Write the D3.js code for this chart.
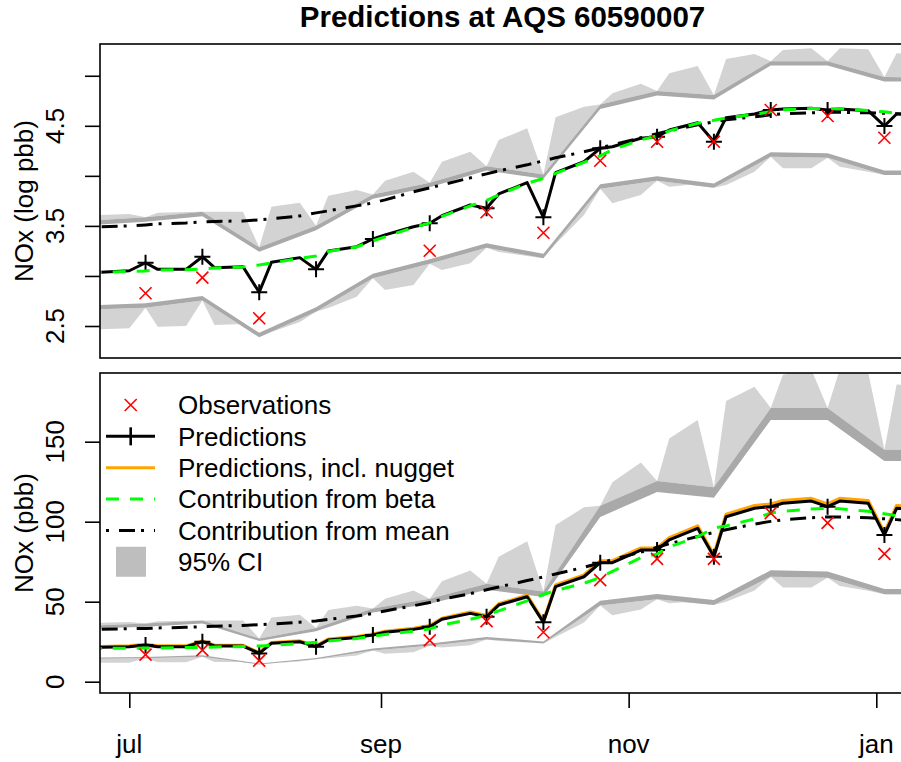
<!DOCTYPE html>
<html>
<head>
<meta charset="utf-8">
<script src="https://cdn.jsdelivr.net/npm/d3@7"></script>
<style>
  body { margin: 0; background: #fff; }
  svg { display: block; font-family: "Liberation Sans", Arial, Helvetica, sans-serif; }
</style>
</head>
<body>
<svg id="chart" width="901" height="762"></svg>
<script>
// ---- time points ------------------------------------------------------
// prediction grid (all model time points)
const gridDates = ["2006-06-21","2006-06-24","2006-07-01","2006-07-05","2006-07-08","2006-07-15",
  "2006-07-19","2006-07-22","2006-07-29","2006-08-02","2006-08-05","2006-08-12","2006-08-16",
  "2006-08-19","2006-08-26","2006-08-30","2006-09-02","2006-09-09","2006-09-13","2006-09-16",
  "2006-09-23","2006-09-27","2006-09-30","2006-10-07","2006-10-11","2006-10-14","2006-10-21",
  "2006-10-25","2006-10-28","2006-11-04","2006-11-08","2006-11-11","2006-11-18","2006-11-22",
  "2006-11-25","2006-12-02","2006-12-06","2006-12-09","2006-12-16","2006-12-20","2006-12-23",
  "2006-12-30","2007-01-03","2007-01-06","2007-01-13","2007-01-17"];
// biweekly sampling schedule of the site
const obsDates = ["2006-06-21","2006-07-05","2006-07-19","2006-08-02","2006-08-16","2006-08-30",
  "2006-09-13","2006-09-27","2006-10-11","2006-10-25","2006-11-08","2006-11-22","2006-12-06",
  "2006-12-20","2007-01-03","2007-01-17"];

// ---- log scale (upper panel) -------------------------------------------
const logObs = [null,2.827,2.983,2.577,null,null,3.252,3.636,3.432,4.151,4.341,4.341,4.658,4.598,4.381,null];
const logPred = [3.03,3.036,3.052,3.132,3.066,3.066,3.192,3.083,3.093,2.837,3.136,3.183,3.066,3.249,3.292,
  3.369,3.41,3.492,3.526,3.602,3.709,3.676,3.819,3.932,3.586,4.032,4.141,4.275,4.291,4.375,4.391,4.458,
  4.531,4.341,4.581,4.618,4.658,4.668,4.675,4.658,4.668,4.651,4.498,4.618,4.61,4.60];
const logBeta = [3.03,3.035,3.045,3.05,3.06,3.063,3.07,3.08,3.09,3.11,3.13,3.175,3.20,3.245,3.29,3.35,
  3.39,3.485,3.53,3.595,3.70,3.755,3.81,3.925,3.975,4.025,4.135,4.20,4.26,4.36,4.40,4.45,4.525,4.555,
  4.578,4.615,4.64,4.66,4.672,4.672,4.67,4.652,4.64,4.625,4.60,4.59];
const logMean = [3.48,3.49,3.50,3.51,3.52,3.53,3.54,3.545,3.55,3.56,3.57,3.60,3.63,3.65,3.70,3.73,3.76,
  3.84,3.88,3.91,3.98,4.02,4.05,4.11,4.15,4.18,4.24,4.28,4.31,4.38,4.42,4.45,4.51,4.54,4.56,4.59,4.61,
  4.62,4.63,4.635,4.635,4.63,4.625,4.62,4.61,4.60];
// 95% CI at every time point
const logCiAllUp = [3.551,3.609,3.619,3.586,3.632,3.639,3.641,3.642,3.642,3.286,3.692,3.732,3.501,3.802,
  3.859,3.814,3.95,4.042,3.931,4.14,4.241,4.097,4.358,4.475,4.014,4.585,4.691,4.713,4.825,4.92,4.847,
  5.024,5.097,4.807,5.167,5.217,5.146,5.257,5.274,5.146,5.274,5.264,4.987,5.224,5.22,4.982];
const logCiAllLo = [2.663,2.467,2.477,2.683,2.493,2.50,2.755,2.51,2.52,2.388,2.44,2.54,2.643,2.68,2.793,
  2.978,2.86,2.91,3.122,3.06,3.126,3.282,3.24,3.20,3.177,3.32,3.609,3.872,3.726,3.809,3.952,3.892,3.919,
  3.880,3.909,4.042,4.191,4.075,4.075,4.181,4.092,4.04,4.009,4.03,4.03,4.008];
// 95% CI on the sampling schedule (with / without nugget)
const logCiObsUpOuter = [3.551,3.586,3.641,3.286,3.501,3.814,3.931,4.097,4.014,4.713,4.847,4.807,5.146,5.146,4.987,4.982];
const logCiObsUpInner = [3.507,3.542,3.597,3.242,3.457,3.770,3.887,4.053,3.970,4.669,4.803,4.763,5.102,5.102,4.943,4.938];
const logCiObsLoInner = [2.707,2.727,2.799,2.432,2.687,3.022,3.166,3.326,3.221,3.916,3.996,3.924,4.235,4.225,4.053,4.052];
const logCiObsLoOuter = [2.663,2.683,2.755,2.388,2.643,2.978,3.122,3.282,3.177,3.872,3.952,3.880,4.191,4.181,4.009,4.008];

// ---- original scale (lower panel) --------------------------------------
const ppbObs = [null,16.9,19.7,13.2,null,null,25.8,37.9,30.9,63.5,76.8,76.8,105.4,99.3,79.9,null];
const ppbPred = [21.4,21.5,21.9,22.9,21.9,21.9,25.0,22.3,22.3,17.7,24.0,25.0,21.9,26.1,27.7,29.2,30.9,
  32.7,34.4,39.0,42.7,40.6,47.9,53.1,37.1,59.4,65.6,74.4,74.4,82.3,82.3,88.6,95.9,78.1,103.1,108.4,
  109.4,111.5,112.9,109.4,112.9,111.5,91.7,108.4,107.0,106.0];
const ppbPredNugget = [21.8,21.9,22.3,23.3,22.3,22.3,25.4,22.7,22.7,18.0,24.4,25.4,22.3,26.6,28.2,29.7,
  31.4,33.3,35.0,39.6,43.4,41.2,48.6,53.9,37.7,60.3,66.6,75.5,75.5,83.5,83.5,89.9,97.3,79.2,104.6,110.0,
  111.0,113.1,114.5,111.0,114.5,113.1,93.0,110.0,108.6,107.5];
const ppbBeta = [20.7,20.8,20.9,21.0,21.1,21.3,21.5,21.7,22.0,22.3,22.7,23.8,24.6,25.4,27.0,28.4,29.5,
  31.6,33.0,35.4,39.0,41.6,44.3,50.5,54.5,57.0,61.5,65.2,69.0,77.5,79.8,84.2,90.6,96.0,97.4,101.7,105.5,
  106.5,107.9,108.3,108.1,106.5,105.0,103.8,101.0,100.0];
const ppbMean = [32.6,32.8,33.1,33.3,33.6,34.0,34.4,34.6,35.2,35.6,36.0,37.2,38.0,38.9,41.0,42.7,44.2,
  47.5,49.5,51.5,55.0,57.5,59.2,63.2,65.5,67.3,71.5,74.2,76.3,81.0,84.0,86.2,90.8,93.3,95.0,98.5,100.2,
  101.2,102.5,103.0,103.0,102.4,101.8,101.3,100.0,99.5];
const ppbCiAllUp = [35.0,36.9,37.3,36.3,37.8,38.1,38.3,38.2,38.2,27.0,40.1,41.8,33.5,44.8,47.4,45.8,51.9,
  57.0,51.8,62.8,69.5,61.2,78.1,87.8,56.4,98.0,109.0,110.0,124.6,137.0,125.5,152.0,163.5,121.5,175.4,
  184.4,171.0,191.9,195.2,171.0,195.2,193.3,145.0,185.7,185.0,145.0];
const ppbCiAllLo = [14.3,11.8,11.9,14.6,12.1,12.2,15.6,12.3,12.4,10.8,11.5,12.7,14.0,14.6,16.3,19.5,17.5,
  18.4,22.5,21.3,22.8,26.4,25.5,24.5,23.8,27.9,37.0,47.6,41.5,45.1,51.6,49.0,50.3,48.0,49.9,57.0,65.6,
  58.9,58.9,64.9,59.8,56.8,54.6,56.3,56.3,54.6];
const ppbCiObsUpOuter = [35.0,36.3,38.3,27.0,33.5,45.8,51.8,61.2,56.4,110.0,125.5,121.5,171.0,171.0,145.0,145.0];
const ppbCiObsUpInner = [33.2,34.4,36.3,25.5,31.6,43.2,48.7,57.4,52.9,103.0,118.5,115.0,163.5,163.5,138.0,138.0];
const ppbCiObsLoInner = [15.1,15.4,16.6,11.4,14.8,20.7,23.9,28.0,25.2,50.6,54.8,51.0,69.6,68.9,58.0,58.0];
const ppbCiObsLoOuter = [14.3,14.6,15.6,10.8,14.0,19.5,22.5,26.4,23.8,47.6,51.6,48.0,65.6,64.9,54.6,54.6];

// ---- axes ----------------------------------------------------------------
const logTicks = [2.5, 3, 3.5, 4, 4.5, 5];
const logTickLabels = ["2.5", "", "3.5", "", "4.5", ""];
const ppbTicks = [0, 50, 100, 150];
const ppbTickLabels = ["0", "50", "100", "150"];
const monthTicks = ["2006-07-01", "2006-09-01", "2006-11-01", "2007-01-01"];
const monthLabels = ["jul", "sep", "nov", "jan"];

const legendLabels = ["Observations", "Predictions", "Predictions, incl. nugget",
  "Contribution from beta", "Contribution from mean", "95% CI"];

// ---- drawing ------------------------------------------------------------
const svg = d3.select("#chart");
const parse = d3.utcParse("%Y-%m-%d");
const tGrid = gridDates.map(parse);
const tObs = obsDates.map(parse);

const plotL = 100, plotR = 905;
const FONT = 26;
const LIGHT = "#d3d3d3", DARK = "#a9a9a9";

const x = d3.scaleUtc()
  .domain([new Date(Date.UTC(2006, 5, 23, 18, 47)), new Date(Date.UTC(2007, 0, 8, 1, 41))])
  .range([plotL, plotR]);

const DASH_BETA = "13,11";
const DASH_MEAN = "3,10,16,6";

function drawPanel(id, top, bottom, yDomain, s) {
  const y = d3.scaleLinear().domain(yDomain).range([bottom, top]);

  svg.append("clipPath").attr("id", id)
    .append("rect").attr("x", plotL).attr("y", top)
    .attr("width", plotR - plotL).attr("height", bottom - top);
  const g = svg.append("g").attr("clip-path", `url(#${id})`);

  const pts = (dates, vals) => dates.map((d, i) => [x(d), vals[i] == null ? null : y(vals[i])]);
  const poly = (aD, aV, bD, bV) =>
    d3.line()(pts(aD, aV).concat(pts(bD, bV).reverse())) + "Z";
  const line = d3.line().defined(p => p[1] != null);

  // interval bands: all time points (light), sampling schedule (dark)
  g.append("path").attr("d", poly(tGrid, s.ciAllUp, tObs, s.ciObsUpOuter)).attr("fill", LIGHT);
  g.append("path").attr("d", poly(tGrid, s.ciAllLo, tObs, s.ciObsLoOuter)).attr("fill", LIGHT);
  g.append("path").attr("d", poly(tObs, s.ciObsUpOuter, tObs, s.ciObsUpInner)).attr("fill", DARK);
  g.append("path").attr("d", poly(tObs, s.ciObsLoOuter, tObs, s.ciObsLoInner)).attr("fill", DARK);

  if (s.predNugget) {
    g.append("path").attr("d", line(pts(tGrid, s.predNugget)))
      .attr("fill", "none").attr("stroke", "orange").attr("stroke-width", 3.4)
      .attr("stroke-linejoin", "round");
  }
  g.append("path").attr("d", line(pts(tGrid, s.pred)))
    .attr("fill", "none").attr("stroke", "black").attr("stroke-width", 3)
    .attr("stroke-linejoin", "round");

  // '+' on the predictions at the sampling dates
  const predAtObs = tObs.map(t => {
    const i = tGrid.findIndex(d => +d === +t);
    return [x(t), y(s.pred[i])];
  });
  g.selectAll(null).data(predAtObs).join("path")
    .attr("d", d => `M${d[0] - 8},${d[1]}H${d[0] + 8}M${d[0]},${d[1] - 8}V${d[1] + 8}`)
    .attr("stroke", "black").attr("stroke-width", 2).attr("fill", "none");

  g.append("path").attr("d", line(pts(tGrid, s.mean)))
    .attr("fill", "none").attr("stroke", "black").attr("stroke-width", 3)
    .attr("stroke-dasharray", DASH_MEAN);
  g.append("path").attr("d", line(pts(tGrid, s.beta)))
    .attr("fill", "none").attr("stroke", "#00ff00").attr("stroke-width", 3)
    .attr("stroke-dasharray", DASH_BETA);

  // observations
  const obsPts = pts(tObs, s.obs).filter(p => p[1] != null);
  g.selectAll(null).data(obsPts).join("path")
    .attr("d", d => `M${d[0] - 6},${d[1] - 6}L${d[0] + 6},${d[1] + 6}M${d[0] - 6},${d[1] + 6}L${d[0] + 6},${d[1] - 6}`)
    .attr("stroke", "red").attr("stroke-width", 1.6).attr("fill", "none");

  // frame
  svg.append("rect").attr("x", plotL).attr("y", top)
    .attr("width", plotR - plotL).attr("height", bottom - top)
    .attr("fill", "none").attr("stroke", "black").attr("stroke-width", 1.6);

  // y axis
  const ax = svg.append("g").attr("transform", `translate(${plotL},0)`)
    .call(d3.axisLeft(y).tickValues(s.ticks).tickSize(15).tickFormat(""));
  ax.select(".domain").remove();
  ax.selectAll(".tick line").attr("stroke", "black").attr("stroke-width", 1.6);
  s.ticks.forEach((v, i) => {
    if (!s.tickLabels[i]) return;
    svg.append("text")
      .attr("transform", `translate(63.5,${y(v)}) rotate(-90)`)
      .attr("text-anchor", "middle").attr("font-size", FONT).text(s.tickLabels[i]);
  });
  svg.append("text")
    .attr("transform", `translate(33,${(top + bottom) / 2}) rotate(-90)`)
    .attr("text-anchor", "middle").attr("font-size", FONT).text(s.ylab);
  return y;
}

drawPanel("clipUpper", 44, 358, [2.1803, 5.3172], {
  obs: logObs, pred: logPred, beta: logBeta, mean: logMean,
  ciAllUp: logCiAllUp, ciAllLo: logCiAllLo,
  ciObsUpOuter: logCiObsUpOuter, ciObsUpInner: logCiObsUpInner,
  ciObsLoOuter: logCiObsLoOuter, ciObsLoInner: logCiObsLoInner,
  ticks: logTicks, tickLabels: logTickLabels, ylab: "NOx (log pbb)"
});

drawPanel("clipLower", 373, 693, [-7.06, 192.94], {
  obs: ppbObs, pred: ppbPred, predNugget: ppbPredNugget, beta: ppbBeta, mean: ppbMean,
  ciAllUp: ppbCiAllUp, ciAllLo: ppbCiAllLo,
  ciObsUpOuter: ppbCiObsUpOuter, ciObsUpInner: ppbCiObsUpInner,
  ciObsLoOuter: ppbCiObsLoOuter, ciObsLoInner: ppbCiObsLoInner,
  ticks: ppbTicks, tickLabels: ppbTickLabels, ylab: "NOx (pbb)"
});

// x axis of the lower panel
const tMonths = monthTicks.map(parse);
const xa = svg.append("g").attr("transform", "translate(0,693)")
  .call(d3.axisBottom(x).tickValues(tMonths).tickSize(15).tickFormat(""));
xa.select(".domain").remove();
xa.selectAll(".tick line").attr("stroke", "black").attr("stroke-width", 1.6);
svg.selectAll(null).data(tMonths).join("text")
  .attr("x", d => x(d)).attr("y", 753)
  .attr("text-anchor", "middle").attr("font-size", FONT)
  .text((d, i) => monthLabels[i]);

// title
svg.append("text").attr("x", (plotL + plotR) / 2).attr("y", 27)
  .attr("text-anchor", "middle").attr("font-size", 29.5).attr("font-weight", "bold")
  .text("Predictions at AQS 60590007");

// legend
const lg = svg.append("g");
const rowY = i => 405 + i * 31.35;
const symX = 130.7, lineX0 = 106, lineX1 = 155;
legendLabels.forEach((lab, i) => {
  lg.append("text").attr("x", 178).attr("y", rowY(i) + 9.3)
    .attr("font-size", FONT).text(lab);
});
// Observations
lg.append("path")
  .attr("d", `M${symX - 6},${rowY(0) - 6}L${symX + 6},${rowY(0) + 6}M${symX - 6},${rowY(0) + 6}L${symX + 6},${rowY(0) - 6}`)
  .attr("stroke", "red").attr("stroke-width", 1.6);
// Predictions
lg.append("line").attr("x1", lineX0).attr("x2", lineX1).attr("y1", rowY(1)).attr("y2", rowY(1))
  .attr("stroke", "black").attr("stroke-width", 3);
lg.append("path").attr("d", `M${symX},${rowY(1) - 9}V${rowY(1) + 9}`)
  .attr("stroke", "black").attr("stroke-width", 2.6);
// incl. nugget
lg.append("line").attr("x1", lineX0).attr("x2", lineX1).attr("y1", rowY(2)).attr("y2", rowY(2))
  .attr("stroke", "orange").attr("stroke-width", 3);
// beta
lg.append("line").attr("x1", lineX0).attr("x2", lineX1).attr("y1", rowY(3)).attr("y2", rowY(3))
  .attr("stroke", "#00ff00").attr("stroke-width", 3).attr("stroke-dasharray", DASH_BETA);
// mean
lg.append("line").attr("x1", lineX0).attr("x2", lineX1).attr("y1", rowY(4)).attr("y2", rowY(4))
  .attr("stroke", "black").attr("stroke-width", 3).attr("stroke-dasharray", DASH_MEAN);
// CI
lg.append("rect").attr("x", 116).attr("y", rowY(5) - 15).attr("width", 30).attr("height", 30)
  .attr("fill", "#bebebe");
</script>
</body>
</html>
